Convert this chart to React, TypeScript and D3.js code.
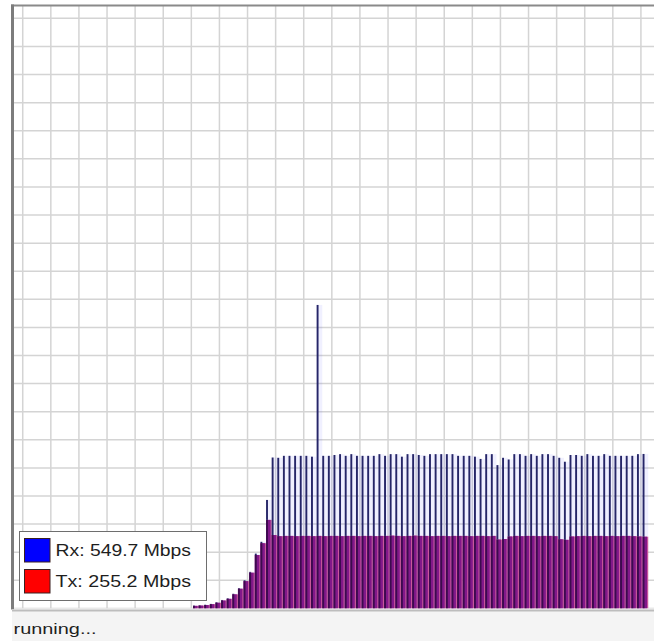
import * as d3 from "d3";

// samples, one per tick, Mbps
const rxMbps = [
  10, 11, 13, 16, 22, 30, 36, 52, 72, 100, 130, 195, 237, 386,
  537, 536, 543, 543, 543, 543, 543, 540, 1080, 543, 543, 546, 549, 543,
  549, 543, 543, 543, 543, 549, 543, 549, 549, 540, 549, 549, 546, 543,
  549, 549, 549, 549, 549, 543, 543, 543, 540, 532, 549, 549, 510, 536,
  530, 549, 549, 543, 549, 543, 549, 549, 543, 536, 522, 546, 546, 543,
  549, 543, 543, 549, 543, 543, 543, 543, 543, 549, 549.7,
];
const txMbps = [
  9, 10, 12, 15, 20, 28, 34, 50, 70, 97, 127, 190, 232, 315,
  261, 257, 258, 258, 257, 258, 258, 257, 258, 257, 258, 258, 257, 258,
  258, 257, 258, 258, 257, 258, 258, 259, 258, 257, 258, 259, 258, 258,
  257, 258, 258, 257, 258, 258, 258, 257, 258, 258, 257, 258, 245, 247,
  256, 258, 257, 258, 258, 257, 258, 258, 257, 246, 244, 256, 257, 258,
  257, 258, 258, 257, 258, 257, 258, 258, 257, 256, 255.2,
];
const legendLabels = ["Rx: 549.7 Mbps", "Tx: 255.2 Mbps"];
const legendColors = ["#0000ff", "#ff0000"];
const statusText = "running...";

export default function App() {
  const width = 654;
  const height = 641;
  const plot = { left: 13, top: 6, right: 654, bottom: 608.4 };

  const x = d3.scaleLinear().domain([0, rxMbps.length - 1]).range([193.3, 642.9]);
  const y = d3.scaleLinear().domain([0, 2144]).range([plot.bottom, plot.top]);
  const pitch = x(1) - x(0);

  // grid scrolls with time, so it is offset from the samples
  const vGrid = d3.range(-30.35, rxMbps.length, 5);
  const hGrid = d3.range(0, 2144, 100);

  const font = "'Liberation Sans', Arial, sans-serif";

  return (
    <svg
      width={width}
      height={height}
      style={{ position: "absolute", left: 0, top: 0, background: "#fff" }}
    >
      <defs>
        <clipPath id="plotClip">
          <rect x={plot.left} y={plot.top} width={plot.right - plot.left} height={plot.bottom - plot.top} />
        </clipPath>
      </defs>

      <g clipPath="url(#plotClip)">
        <rect x={plot.left} y={plot.top} width={plot.right - plot.left} height={plot.bottom - plot.top} fill="#fff" />
        {vGrid.map((d) => (
          <line key={"v" + d} x1={x(d)} x2={x(d)} y1={plot.top} y2={plot.bottom} stroke="#d4d4d4" strokeWidth={1.5} />
        ))}
        {hGrid.map((d) => (
          <line key={"h" + d} x1={plot.left} x2={plot.right} y1={y(d)} y2={y(d)} stroke="#d4d4d4" strokeWidth={1.5} />
        ))}

        {rxMbps.map((rx, i) => {
          const tx = txMbps[i];
          const x0 = x(i) - 0.3;
          return (
            <g key={i}>
              <rect x={x0} y={y(rx)} width={pitch} height={y(0) - y(rx)} fill="rgba(60,60,255,0.08)" />
              <rect x={x0} y={y(tx)} width={pitch} height={y(0) - y(tx)} fill="#c8589a" />
              <rect x={x0} y={y(tx)} width={pitch - 1.2} height={y(0) - y(tx)} fill="#82188a" />
              <rect x={x0} y={y(rx)} width={1.9} height={Math.max(0, y(tx) - y(rx))} fill="#262668" />
              <rect x={x0} y={y(tx)} width={1.9} height={y(0) - y(tx)} fill="#3c0a4e" />
            </g>
          );
        })}
      </g>

      {/* frame */}
      <line x1={11} x2={plot.right} y1={5.5} y2={5.5} stroke="#8a8a8a" strokeWidth={2} />
      <line x1={12.5} x2={12.5} y1={4.5} y2={plot.bottom + 1} stroke="#7c7c7c" strokeWidth={3} />

      {/* legend */}
      <g fontFamily={font} fontSize={17} fill="#1e1e1e">
        <rect x={19.5} y={531.5} width={187} height={69} fill="#fff" stroke="#6e6e6e" />
        {legendLabels.map((label, i) => (
          <g key={label} transform={`translate(0,${i * 31})`}>
            <rect x={24.5} y={538.5} width={25.5} height={23.5} fill={legendColors[i]} stroke="#3a2020" />
            <text x={55.5} y={555.7} textLength={135.5} lengthAdjust="spacingAndGlyphs">
              {label}
            </text>
          </g>
        ))}
      </g>

      {/* status bar */}
      <rect x={12} y={609.5} width={width - 12} height={height - 609.5} fill="#f4f4f4" />
      <line x1={12} x2={width} y1={610.5} y2={610.5} stroke="#bdbdbd" strokeWidth={2} />
      <text
        x={13.5}
        y={634}
        fontFamily={font}
        fontSize={15.5}
        fill="#1e1e1e"
        textLength={83}
        lengthAdjust="spacingAndGlyphs"
      >
        {statusText}
      </text>
    </svg>
  );
}
